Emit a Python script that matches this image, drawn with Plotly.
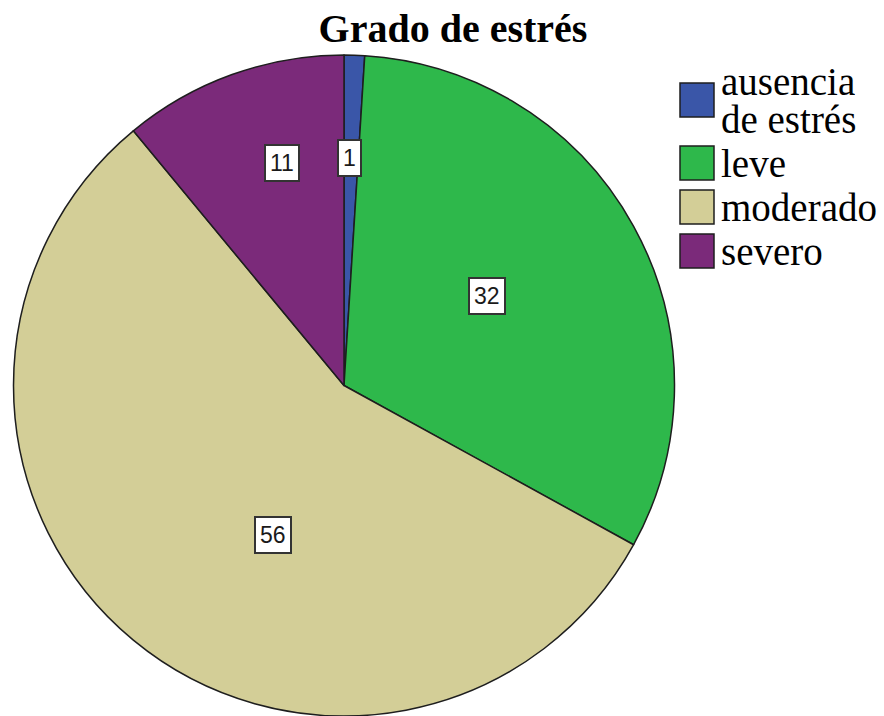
import math
import plotly.graph_objects as go

# ---- data ----
categories = ["ausencia de estrés", "leve", "moderado", "severo"]
legend_labels = ["ausencia\nde estrés", "leve", "moderado", "severo"]
values = [1, 32, 56, 11]
title_text = "Grado de estrés"

# ---- style ----
colors = ["#3A56A8", "#2EB84B", "#D3CE97", "#7B2A7A"]
label_pos_in_slice = [0.35, 0.47, 0.43, 0.61]   # fraction of slice sweep
label_radius = [0.69, 0.51, 0.50, 0.70]         # fraction of pie radius

W, H = 884, 716
pie_left, pie_right, pie_top, pie_bottom = 11, 677, 55, 716
cx = (pie_left + pie_right) / 2
cy = (pie_top + pie_bottom) / 2
R = min(pie_right - pie_left, pie_bottom - pie_top) / 2

fig = go.Figure()
fig.add_trace(go.Pie(
    labels=categories, values=values, sort=False, direction="clockwise",
    rotation=0, textinfo="none", showlegend=False,
    marker=dict(colors=colors, line=dict(color="#1e1e1e", width=1.5)),
    domain=dict(x=[pie_left / W, pie_right / W], y=[1 - pie_bottom / H, 1 - pie_top / H]),
))

annotations = []
total = sum(values)
cum = 0
for v, f, rf in zip(values, label_pos_in_slice, label_radius):
    a0 = cum / total * 360
    a1 = (cum + v) / total * 360
    cum += v
    ang = math.radians(a0 + f * (a1 - a0))
    px = cx + R * rf * math.sin(ang)
    py = cy - R * rf * math.cos(ang)
    annotations.append(dict(
        x=px / W, y=1 - py / H, xref="paper", yref="paper", showarrow=False,
        text=str(v), font=dict(family="Liberation Sans, Arial", size=23, color="#1a1a1a"),
        bgcolor="white", bordercolor="#333333", borderwidth=2, borderpad=4,
        xanchor="center", yanchor="middle"))

# custom legend
shapes = []
line_gap = 38
entry_h = 44
center = 100
prev_h = None
sw = 34
for i, (lab, col) in enumerate(zip(legend_labels, colors)):
    lines = lab.split("\n")
    h = entry_h + (len(lines) - 1) * line_gap
    if prev_h is not None:
        center += (prev_h + h) / 2
    prev_h = h
    shapes.append(dict(type="rect", xref="paper", yref="paper",
                       x0=680 / W, x1=(680 + sw) / W,
                       y0=1 - (center + sw / 2) / H, y1=1 - (center - sw / 2) / H,
                       fillcolor=col, line=dict(color="#1e1e1e", width=1.5)))
    for j, ln in enumerate(lines):
        yc = center + (j - (len(lines) - 1) / 2) * line_gap
        ann = dict(
            x=719 / W, y=1 - yc / H, xref="paper", yref="paper", showarrow=False,
            text=ln, font=dict(family="Liberation Serif, Times New Roman", size=39, color="black"),
            xanchor="left", yanchor="middle")
        if len(lines) > 1:
            ann["height"] = line_gap
        annotations.append(ann)

fig.update_layout(
    width=W, height=H, autosize=False,
    margin=dict(l=0, r=0, t=0, b=0),
    paper_bgcolor="white", plot_bgcolor="white",
    title=dict(text="<b>" + title_text + "</b>", x=453 / W, xanchor="center",
               y=1 - 28 / H, yanchor="middle",
               font=dict(family="Liberation Serif, Times New Roman", size=40, color="black")),
    annotations=annotations, shapes=shapes,
)

fig.write_html("out.html", config={"displayModeBar": False},
               post_script="document.body.style.margin='0';document.body.style.overflow='hidden';")
